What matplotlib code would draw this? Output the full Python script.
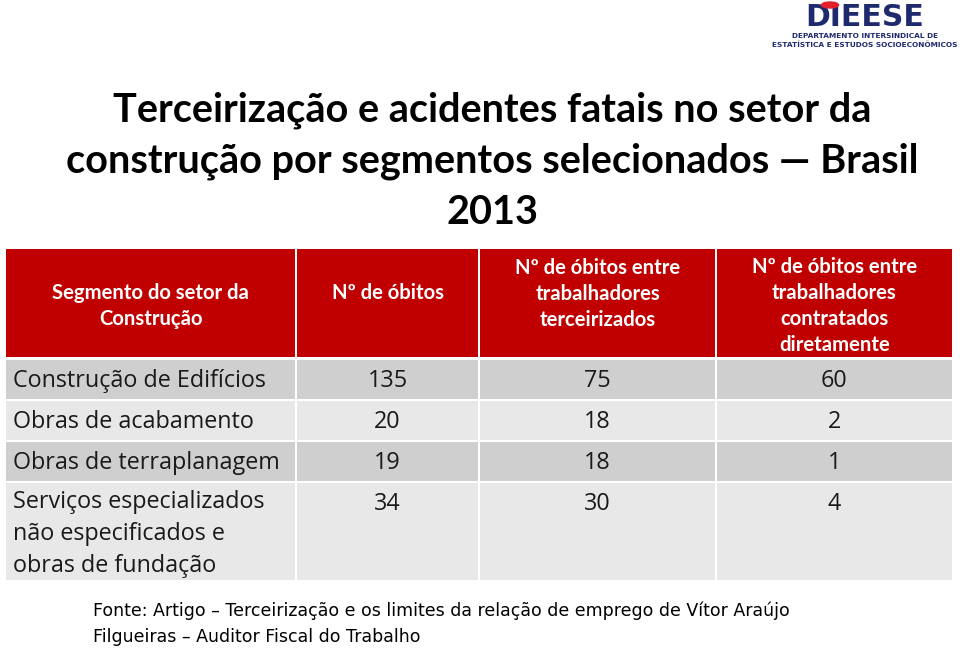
import matplotlib
matplotlib.use("Agg")
import matplotlib.pyplot as plt
from matplotlib.patches import Rectangle, Ellipse

# ---- data ----
title_lines = ["Terceirização e acidentes fatais no setor da",
               "construção por segmentos selecionados — Brasil",
               "2013"]
headers = ["Segmento do setor da\nConstrução",
           "Nº de óbitos",
           "Nº de óbitos entre\ntrabalhadores\nterceirizados",
           "Nº de óbitos entre\ntrabalhadores\ncontratados\ndiretamente"]
segments = ["Construção de Edifícios",
            "Obras de acabamento",
            "Obras de terraplanagem",
            "Serviços especializados\nnão especificados e\nobras de fundação"]
obitos = [135, 20, 19, 34]
terceirizados = [75, 18, 18, 30]
diretos = [60, 2, 1, 4]
source = ["Fonte: Artigo – Terceirização e os limites da relação de emprego de Vítor Araújo",
          "Filgueiras – Auditor Fiscal do Trabalho"]

W, H = 960, 649
fig = plt.figure(figsize=(W / 100, H / 100), dpi=100)
ax = fig.add_axes([0, 0, 1, 1])
ax.set_xlim(0, W)
ax.set_ylim(H, 0)
ax.axis("off")

# ---- logo ----
navy = "#1f2a6e"
ax.text(865, 18, "DIEESE", ha="center", va="center", fontsize=21.5, fontweight="black",
        color=navy, family="DejaVu Sans")
ax.add_patch(Ellipse((830, 5), 17, 6, color="#e0202a", zorder=5))
ax.text(865, 36, "DEPARTAMENTO INTERSINDICAL DE", ha="center", va="center",
        fontsize=5.3, fontweight="bold", color=navy, family="DejaVu Sans")
ax.text(865, 45, "ESTATÍSTICA E ESTUDOS SOCIOECONÔMICOS", ha="center", va="center",
        fontsize=5.3, fontweight="bold", color=navy, family="DejaVu Sans")

# ---- title ----
ty = [110, 161, 213]
for t, y in zip(title_lines, ty):
    ax.text(492, y, t, ha="center", va="center", fontsize=28.5, fontweight="bold",
            color="#000000", family="Lato")

# ---- table ----
col_x = [5, 296, 479, 716, 953]
header_y = (249, 357)
row_y = [(360, 399), (401, 440), (442, 481), (483, 580)]
row_colors = ["#cfcfcf", "#e8e8e8", "#cfcfcf", "#e8e8e8"]
gap = 2
header_cy = [306, 293, 294, 306]

for c in range(4):
    x0, x1 = col_x[c], col_x[c + 1]
    ax.add_patch(Rectangle((x0 + 1, header_y[0]), x1 - x0 - gap, header_y[1] - header_y[0],
                           color="#c00000", lw=0))
    ax.text((x0 + x1) / 2, header_cy[c], headers[c], ha="center",
            va="center", fontsize=14.6, fontweight="bold", color="white",
            family="Lato", linespacing=1.38)

cols_vals = [obitos, terceirizados, diretos]
for r in range(4):
    y0, y1 = row_y[r]
    for c in range(4):
        x0, x1 = col_x[c], col_x[c + 1]
        ax.add_patch(Rectangle((x0 + 1, y0), x1 - x0 - gap, y1 - y0,
                               color=row_colors[r], lw=0))
    if r < 3:
        ax.text(13, y0 + 21, segments[r], ha="left", va="center",
                fontsize=16.8, color="#1a1a1a", family="Open Sans")
    else:
        ax.text(13, y0 + 7, segments[r], ha="left", va="top",
                fontsize=16.8, color="#1a1a1a", family="Open Sans", linespacing=1.45)
    for c in range(1, 4):
        x0, x1 = col_x[c], col_x[c + 1]
        ax.text((x0 + x1) / 2, y0 + 21, str(cols_vals[c - 1][r]), ha="center",
                va="center", fontsize=16.8, color="#1a1a1a", family="Open Sans")

# ---- source ----
ax.text(93, 611, source[0], ha="left", va="center", fontsize=12.5, color="#000000",
        family="DejaVu Sans")
ax.text(93, 637, source[1], ha="left", va="center", fontsize=12.5, color="#000000",
        family="DejaVu Sans")

fig.savefig("out.png", dpi=100)
